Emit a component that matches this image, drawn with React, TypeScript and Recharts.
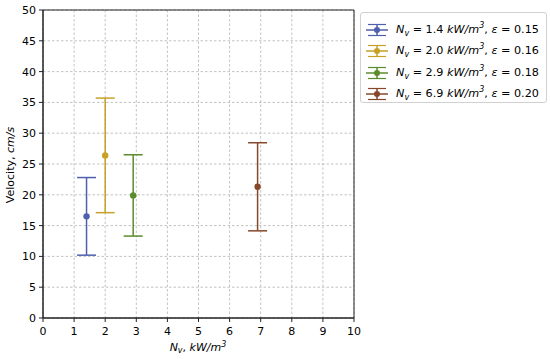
import React from "react";
import {
  ScatterChart,
  Scatter,
  XAxis,
  YAxis,
  CartesianGrid,
  ErrorBar,
  ReferenceArea,
} from "recharts";

const nv = [1.4, 2.0, 2.9, 6.9];
const velocity = [16.5, 26.4, 19.9, 21.3];
const velocityErr = [6.3, 9.3, 6.6, 7.15];
const nvLabels = ["1.4", "2.0", "2.9", "6.9"];
const epsLabels = ["0.15", "0.16", "0.18", "0.20"];
const xTicks = [0, 1, 2, 3, 4, 5, 6, 7, 8, 9, 10];
const yTicks = [0, 5, 10, 15, 20, 25, 30, 35, 40, 45, 50];

const COLORS = ["#4f5fae", "#c6a126", "#5b8c2c", "#86472a"];
const FONT = "'DejaVu Sans', sans-serif";

const series = nv.map((x, i) => ({
  color: COLORS[i],
  data: [{ x, y: velocity[i], err: [velocityErr[i], velocityErr[i]] }],
}));

function YTitle() {
  return (
    <text
      transform="translate(14, 165) rotate(-90)"
      textAnchor="middle"
      fontSize={11}
      fill="#000"
      fontFamily={FONT}
    >
      Velocity, <tspan fontStyle="italic">cm/s</tspan>
    </text>
  );
}

function XTitle() {
  return (
    <text x={198} y={351} textAnchor="middle" fontSize={11} fill="#000" fontFamily={FONT}>
      <tspan fontStyle="italic">N</tspan>
      <tspan fontStyle="italic" fontSize={8} dy={2}>v</tspan>
      <tspan dy={-2}>,  </tspan>
      <tspan fontStyle="italic">kW/m</tspan>
      <tspan fontStyle="italic" fontSize={8} dy={-4}>3</tspan>
    </text>
  );
}

function LegendIcon({ color }: { color: string }) {
  return (
    <svg width={24} height={14} style={{ display: "block" }}>
      <line x1={1} y1={7} x2={23} y2={7} stroke={color} strokeWidth={1.5} />
      <line x1={12} y1={1.5} x2={12} y2={12.5} stroke={color} strokeWidth={1.5} />
      <line x1={3} y1={1.5} x2={21} y2={1.5} stroke={color} strokeWidth={1.2} />
      <line x1={3} y1={12.5} x2={21} y2={12.5} stroke={color} strokeWidth={1.2} />
      <circle cx={12} cy={7} r={3} fill={color} />
    </svg>
  );
}

function ChartLegend() {
  return (
    <div
      style={{
        position: "absolute",
        left: 360,
        top: 12,
        width: 187,
        height: 91,
        border: "1px solid #d0d0d0",
        borderRadius: 3,
        background: "#fff",
        boxSizing: "border-box",
        padding: "6px 0 0 4px",
        fontFamily: FONT,
        fontSize: 11.2,
        color: "#000",
      }}
    >
      {nvLabels.map((n, i) => (
        <div key={n} style={{ display: "flex", alignItems: "center", height: 21.5 }}>
          <LegendIcon color={COLORS[i]} />
          <span style={{ marginLeft: 7, whiteSpace: "nowrap", lineHeight: "14px" }}>
            <i>N</i>
            <sub style={{ fontSize: 8, fontStyle: "italic", lineHeight: 0 }}>v</sub> = {n}{" "}
            <i>kW/m</i>
            <sup style={{ fontSize: 8, fontStyle: "italic", lineHeight: 0 }}>3</sup>, <i>ε</i> ={" "}
            {epsLabels[i]}
          </span>
        </div>
      ))}
    </div>
  );
}

export default function App() {
  return (
    <div
      style={{
        position: "absolute",
        left: 0,
        top: 0,
        width: 550,
        height: 359,
        background: "#fff",
        fontFamily: FONT,
      }}
    >
      <ScatterChart
        width={550}
        height={359}
        margin={{ top: 10, right: 196, bottom: 0, left: 0 }}
      >
        <CartesianGrid stroke="#b4b4b4" strokeDasharray="2.5 2" strokeWidth={0.8} />
        <XAxis
          type="number"
          dataKey="x"
          domain={[0, 10]}
          ticks={xTicks}
          allowDataOverflow
          height={41}
          tickSize={4}
          tickMargin={5}
          tick={{ fontSize: 11, fill: "#000" }}
          axisLine={{ stroke: "#222" }}
          tickLine={{ stroke: "#222" }}
          label={{ content: () => <XTitle /> }}
        />
        <YAxis
          type="number"
          dataKey="y"
          domain={[0, 50]}
          ticks={yTicks}
          allowDataOverflow
          width={43}
          tickSize={4}
          tickMargin={3}
          tick={{ fontSize: 11, fill: "#000" }}
          axisLine={{ stroke: "#222" }}
          tickLine={{ stroke: "#222" }}
          label={{ content: () => <YTitle /> }}
        />
        <ReferenceArea x1={0} x2={10} y1={0} y2={50} fill="none" stroke="#222" strokeWidth={1} />
        {series.map((s, i) => (
          <Scatter
            key={i}
            data={s.data}
            fill={s.color}
            isAnimationActive={false}
            shape={(p: any) => <circle cx={p.cx} cy={p.cy} r={3.2} fill={s.color} />}
          >
            <ErrorBar
              dataKey="err"
              direction="y"
              width={9.5}
              stroke={s.color}
              strokeWidth={1.5}
              isAnimationActive={false}
            />
          </Scatter>
        ))}
      </ScatterChart>
      <ChartLegend />
    </div>
  );
}
